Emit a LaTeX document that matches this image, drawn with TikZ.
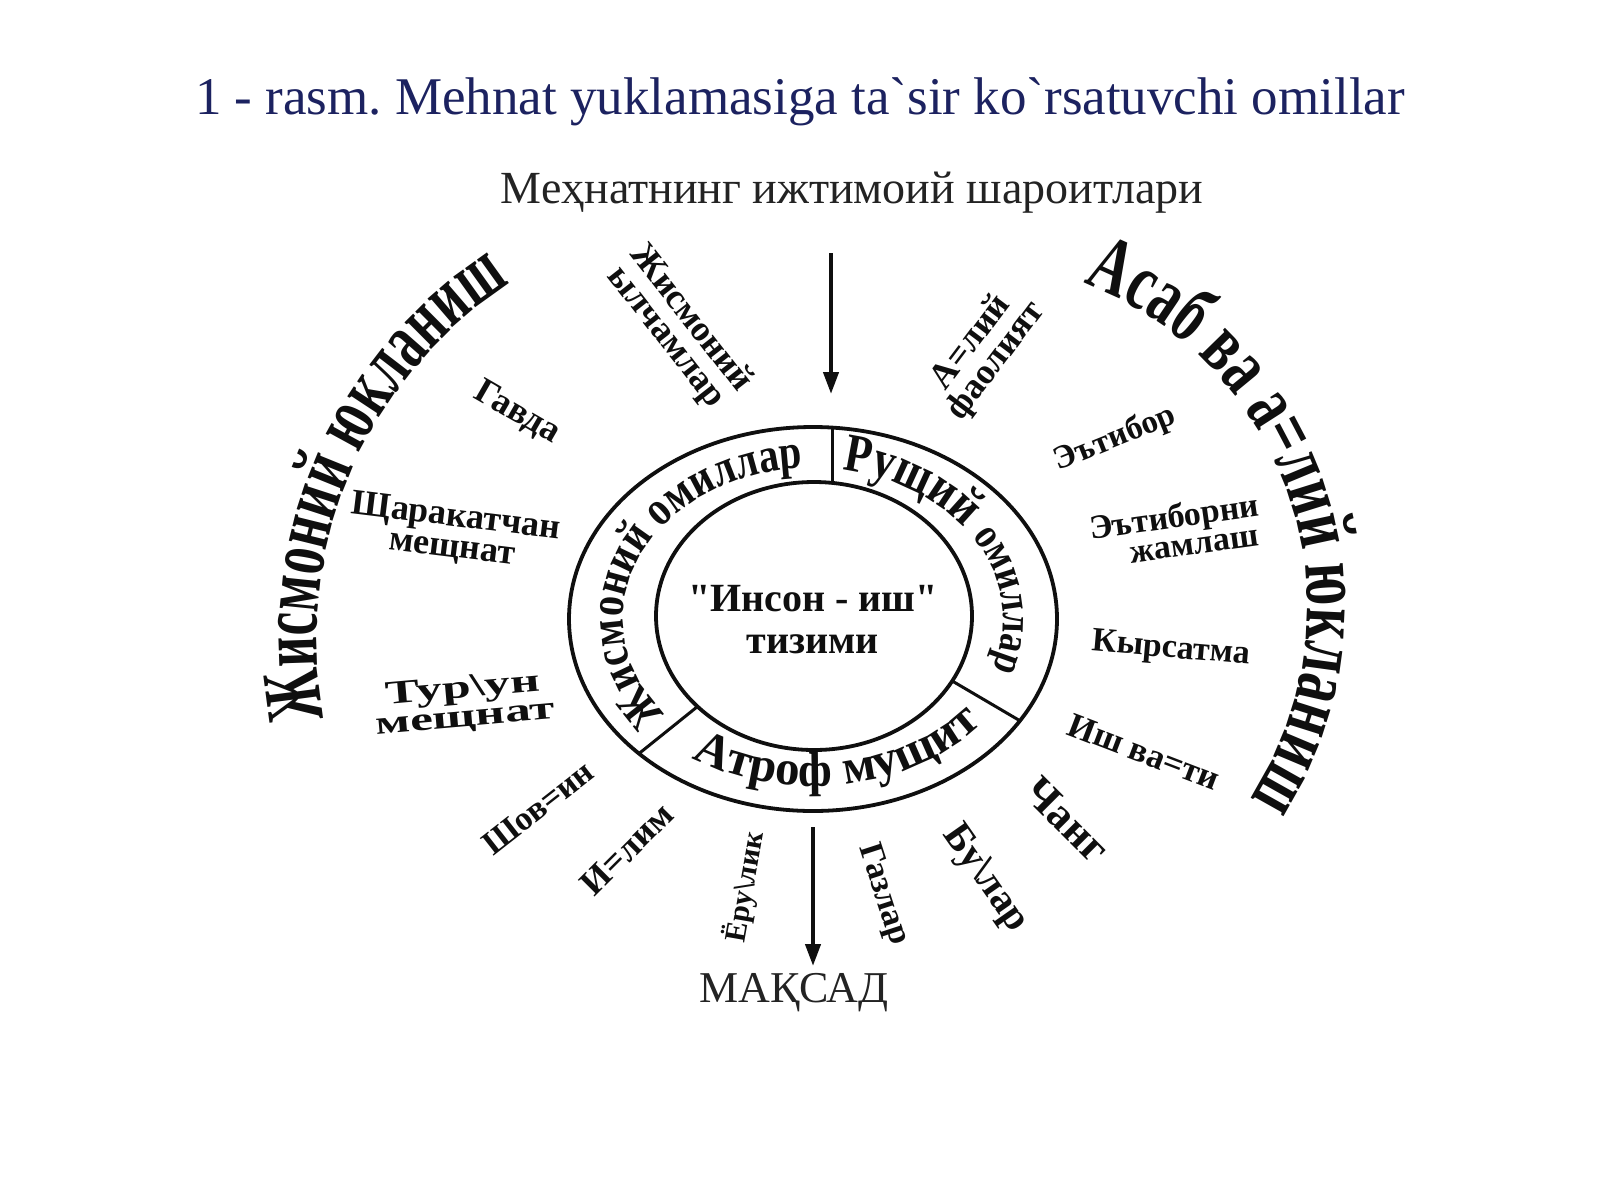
\documentclass[tikz,border=0pt]{standalone}
\usepackage{fontspec}
\setmainfont{Liberation Serif}
\newfontfamily\titlef{Liberation Serif}[Ligatures=TeXOff]
\newfontfamily\labf{Liberation Serif}
\newfontfamily\labr{Liberation Serif}[FakeStretch=0.82]
\newfontfamily\labc{Liberation Serif}[FakeStretch=0.64]
\newfontfamily\labd{Liberation Serif}[FakeStretch=0.68]
\newfontfamily\labx{Liberation Serif}[FakeStretch=1.55]
\usetikzlibrary{decorations.text,arrows.meta,calc}
\definecolor{navy}{RGB}{28,34,96}
\definecolor{ink}{RGB}{15,15,15}
\definecolor{gink}{RGB}{35,35,35}
\newcommand\setfs[2]{\fontsize{#1}{#2}\selectfont}
\frenchspacing
\begin{document}
\begin{tikzpicture}[x=1pt,y=1pt,
  lab/.style={text=ink, align=center, inner sep=0pt},
  bl/.style 2 args={font={\labf\bfseries\setfs{#1}{#2}}},
  ringline/.style={line width=3.8pt, draw=ink},
  divline/.style={line width=3pt, draw=ink},
  arr/.style={line width=4.2pt, draw=ink, -{Triangle[length=22pt,width=15pt]}}
]
\fill[white] (0,0) rectangle (1600,-1200);
\useasboundingbox (0,0) rectangle (1600,-1200);

% title and outer texts
\node[text=navy, font={\titlef\setfs{53}{58}}] (title) at (800,-102) {1 - rasm. Mehnat yuklamasiga ta`sir ko`rsatuvchi omillar};
\node[text=gink, font={\setfs{46}{50}}] (social) at (852,-193) {Меҳнатнинг ижтимоий шароитлари};
\node[text=gink, font={\setfs{44}{48}}] (goal) at (794,-993) {МАҚСАД};

% centre and ellipses
\coordinate (C) at (813,-619);
\coordinate (Ci) at (814,-616);
\coordinate (L) at (738,-638);
\coordinate (R) at (959,-608);
\draw[ringline] (C) ellipse [x radius=244pt, y radius=192pt];
\draw[ringline] (Ci) ellipse [x radius=158pt, y radius=134pt];
\draw[divline] (832,-428) -- (832,-484);
\draw[divline] ($(C)+(-32:244pt and 192pt)$) -- ($(Ci)+(-29:158pt and 134pt)$);
\draw[divline] ($(C)+(-135.5:244pt and 192pt)$) -- ($(Ci)+(-137.5:158pt and 134pt)$);

\node[lab, bl={40}{42}] (sys) at (813,-620) {"Инсон - иш"\\тизими};

% arrows
\coordinate (topin) at (831,-253);
\coordinate (topout) at (831,-394);
\coordinate (botin) at (813,-827);
\coordinate (botout) at (813,-966);
\draw[arr] (topin) -- (topout);
\draw[arr] (botin) -- (botout);

% ring texts
\path[decorate, decoration={text along path, text color=ink,
  text={|\labr\bfseries\setfs{49}{49}|Жисмоний омиллар}}]
  ($(C)+(219:190pt and 151pt)$) arc[start angle=219, end angle=70, x radius=190pt, y radius=151pt];
\path[decorate, decoration={text along path, text color=ink,
  text={|\labr\bfseries\setfs{54}{54}|Рущий |\labr\bfseries\setfs{44}{44}|омиллар}}]
  ($(C)+(81:190pt and 151pt)$) arc[start angle=81, end angle=-60, x radius=190pt, y radius=151pt];
\path[decorate, decoration={text along path, text color=ink,
  text={|\labf\bfseries\setfs{49}{49}|Атроф мущит}}]
  ($(C)+(-124:216pt and 167pt)$) arc[start angle=-124, end angle=10, x radius=216pt, y radius=167pt];

% big arcs
\path[decorate, decoration={text along path, text color=ink,
  text={|\labc\bfseries\setfs{82}{82}|Жисмоний юкланиш}}]
  ($(L)+(191:421pt)$) arc[start angle=191, end angle=95, radius=421pt];
\path[decorate, decoration={text along path, text color=ink,
  text={|\labd\bfseries\setfs{82}{82}|Асаб ва а=лий юкланиш}}]
  ($(R)+(69:348pt)$) arc[start angle=69, end angle=-65, radius=348pt];

% radial labels, left
\node[lab, bl={36}{31}, rotate=-52] (l1) at (678,-328) {Жисмоний\\ылчамлар};
\node[lab, bl={36}{36}, rotate=-30] (l2) at (517,-413) {Гавда};
\node[lab, bl={36}{31}, rotate=-7] (l3) at (454,-533) {Щаракатчан\\мещнат};
\node[lab, font={\labx\bfseries\setfs{33}{29}}, rotate=5] (l4) at (464,-704) {Тур\textbackslash ун\\мещнат};
\node[lab, bl={34}{34}, rotate=38] (l5) at (538,-808) {Шов=ин};
\node[lab, bl={36}{36}, rotate=45] (l6) at (627,-849) {И=лим};
\node[lab, bl={30}{30}, rotate=80] (l7) at (745,-887) {Ёру\textbackslash лик};
% radial labels, right
\node[lab, bl={34}{34}, rotate=-72] (r1) at (883,-895) {Газлар};
\node[lab, bl={40}{40}, rotate=-55] (r2) at (985,-879) {Бу\textbackslash лар};
\node[lab, bl={44}{44}, rotate=-45] (r3) at (1067,-820) {Чанг};
\node[lab, bl={35}{35}, rotate=-21] (r4) at (1144,-752) {Иш ва=ти};
\node[lab, bl={34}{34}, rotate=-5] (r5) at (1171,-650) {Кырсатма};
\node[lab, bl={34}{29}, rotate=8] (r6) at (1176,-530) {Эътиборни\\\hspace*{32pt}жамлаш};
\node[lab, bl={33}{33}, rotate=22] (r7) at (1115,-439) {Эътибор};
\node[lab, bl={36}{31}, rotate=53] (r8) at (984,-352) {А=лий\\фаолият};
\end{tikzpicture}
\end{document}
